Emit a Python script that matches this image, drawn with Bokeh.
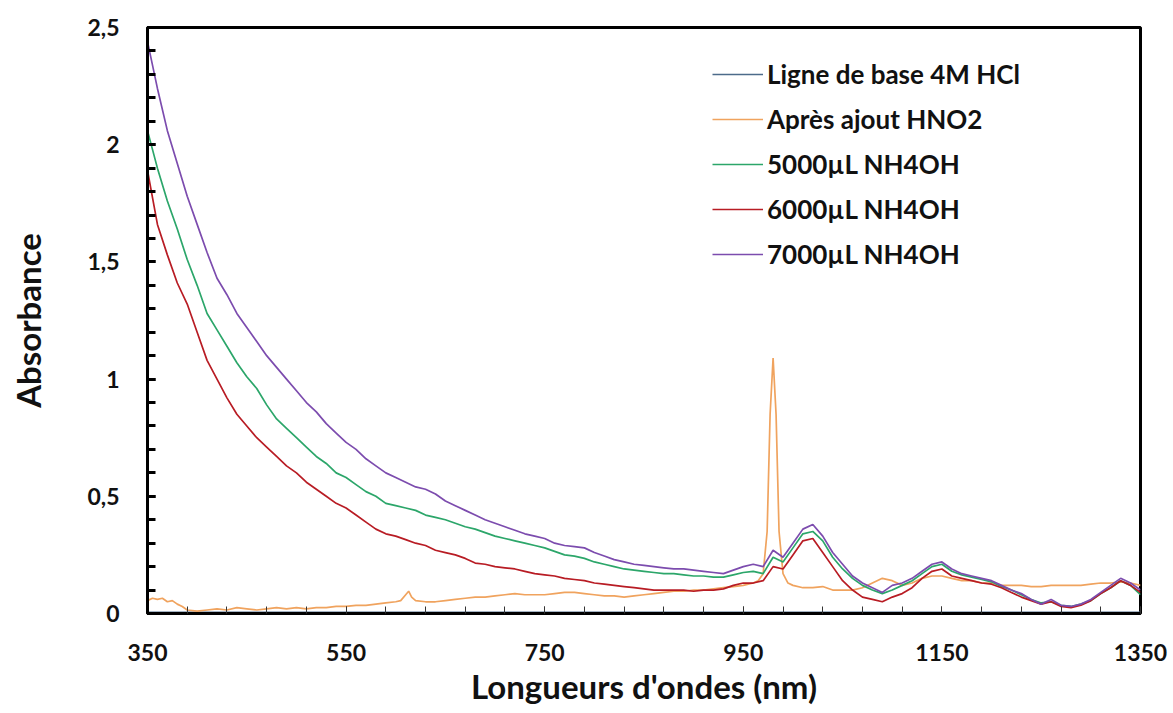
from bokeh.plotting import figure
from bokeh.embed import file_html
from bokeh.resources import INLINE
from bokeh.models import Range1d, FixedTicker, CustomJSTickFormatter, Legend, LegendItem

# ---------------- data ----------------
wl = list(range(350, 1351, 10))

a_7000 = [2.44, 2.24, 2.06, 1.92, 1.78, 1.66, 1.54, 1.43, 1.36, 1.28,
          1.22, 1.16, 1.10, 1.05, 1.00, 0.95, 0.90, 0.86, 0.81, 0.77,
          0.73, 0.70, 0.66, 0.63, 0.60, 0.58, 0.56, 0.54, 0.53, 0.51,
          0.48, 0.46, 0.44, 0.42, 0.40, 0.385, 0.37, 0.355, 0.34, 0.33,
          0.32, 0.30, 0.29, 0.285, 0.28, 0.26, 0.245, 0.23, 0.22, 0.21,
          0.205, 0.20, 0.195, 0.19, 0.19, 0.185, 0.18, 0.175, 0.17, 0.185,
          0.20, 0.21, 0.20, 0.27, 0.24, 0.30, 0.36, 0.38, 0.33, 0.26,
          0.21, 0.16, 0.13, 0.11, 0.09, 0.12, 0.13, 0.15, 0.18, 0.21,
          0.22, 0.19, 0.17, 0.16, 0.15, 0.14, 0.12, 0.10, 0.085, 0.06,
          0.04, 0.06, 0.035, 0.03, 0.04, 0.06, 0.09, 0.12, 0.15, 0.13,
          0.10]

a_5000 = [2.06, 1.90, 1.76, 1.64, 1.51, 1.40, 1.28, 1.21, 1.14, 1.07,
          1.01, 0.96, 0.89, 0.83, 0.79, 0.75, 0.71, 0.67, 0.64, 0.60,
          0.58, 0.55, 0.52, 0.50, 0.47, 0.46, 0.45, 0.44, 0.42, 0.41,
          0.40, 0.385, 0.37, 0.36, 0.345, 0.33, 0.32, 0.31, 0.30, 0.29,
          0.28, 0.265, 0.25, 0.245, 0.235, 0.22, 0.21, 0.20, 0.19, 0.185,
          0.18, 0.175, 0.17, 0.17, 0.165, 0.16, 0.16, 0.155, 0.155, 0.165,
          0.175, 0.18, 0.17, 0.24, 0.22, 0.28, 0.34, 0.35, 0.31, 0.24,
          0.19, 0.15, 0.12, 0.10, 0.085, 0.10, 0.12, 0.14, 0.17, 0.20,
          0.21, 0.18, 0.165, 0.155, 0.145, 0.135, 0.115, 0.10, 0.08, 0.06,
          0.045, 0.05, 0.035, 0.03, 0.04, 0.055, 0.085, 0.11, 0.14, 0.12,
          0.08]

a_6000 = [1.89, 1.66, 1.53, 1.41, 1.32, 1.20, 1.08, 1.00, 0.92, 0.85,
          0.80, 0.75, 0.71, 0.67, 0.63, 0.60, 0.56, 0.53, 0.50, 0.47,
          0.45, 0.42, 0.39, 0.36, 0.34, 0.33, 0.315, 0.30, 0.29, 0.27,
          0.26, 0.25, 0.235, 0.215, 0.21, 0.20, 0.195, 0.19, 0.18, 0.17,
          0.165, 0.16, 0.15, 0.145, 0.14, 0.13, 0.125, 0.12, 0.115, 0.11,
          0.105, 0.10, 0.10, 0.10, 0.10, 0.095, 0.10, 0.10, 0.105, 0.12,
          0.13, 0.13, 0.14, 0.20, 0.19, 0.25, 0.31, 0.32, 0.26, 0.20,
          0.14, 0.10, 0.07, 0.06, 0.05, 0.07, 0.085, 0.11, 0.15, 0.18,
          0.19, 0.16, 0.15, 0.14, 0.13, 0.125, 0.11, 0.09, 0.07, 0.055,
          0.04, 0.05, 0.03, 0.025, 0.035, 0.055, 0.085, 0.11, 0.14, 0.12,
          0.09]

wl_hno2 = [350, 355, 360, 365, 370, 375, 380, 385, 390, 400, 410, 420, 430, 440,
           450, 460, 470, 480, 490, 500, 510, 520, 530, 540, 550, 560, 570, 580,
           590, 600, 605, 610, 613, 616, 620, 630, 640, 650, 660, 670, 680, 690,
           700, 710, 720, 730, 740, 750, 760, 770, 780, 790, 800, 810, 820, 830,
           840, 850, 860, 870, 880, 890, 900, 910, 920, 930, 940, 950, 960, 965,
           970, 974, 977, 980, 983, 986, 990, 995, 1000, 1010, 1020, 1030, 1040,
           1050, 1060, 1070, 1080, 1090, 1100, 1110, 1120, 1130, 1140, 1150, 1160,
           1170, 1180, 1190, 1200, 1210, 1220, 1230, 1240, 1250, 1260, 1270, 1280,
           1290, 1300, 1310, 1320, 1330, 1340, 1350]
a_hno2 = [0.055, 0.065, 0.06, 0.065, 0.05, 0.055, 0.04, 0.03, 0.015, 0.01, 0.015,
          0.02, 0.015, 0.025, 0.02, 0.015, 0.02, 0.025, 0.02, 0.025, 0.02, 0.025,
          0.025, 0.03, 0.03, 0.035, 0.035, 0.04, 0.045, 0.05, 0.055, 0.08, 0.095,
          0.07, 0.055, 0.05, 0.05, 0.055, 0.06, 0.065, 0.07, 0.07, 0.075, 0.08,
          0.085, 0.08, 0.08, 0.08, 0.085, 0.09, 0.09, 0.085, 0.08, 0.075, 0.075,
          0.07, 0.075, 0.08, 0.085, 0.09, 0.095, 0.095, 0.10, 0.10, 0.105, 0.11,
          0.115, 0.12, 0.13, 0.14, 0.17, 0.35, 0.85, 1.09, 0.85, 0.35, 0.17, 0.13,
          0.12, 0.11, 0.11, 0.115, 0.10, 0.10, 0.10, 0.11, 0.13, 0.15, 0.14, 0.12,
          0.13, 0.15, 0.16, 0.16, 0.15, 0.14, 0.14, 0.13, 0.13, 0.12, 0.12, 0.12,
          0.115, 0.115, 0.12, 0.12, 0.12, 0.12, 0.125, 0.13, 0.13, 0.135, 0.13,
          0.12]

wl_base = [350, 550, 750, 950, 1150, 1350]
a_base = [0.005, 0.005, 0.005, 0.005, 0.005, 0.005]

labels = ["Ligne de base 4M HCl", "Après ajout HNO2", "5000µL NH4OH",
          "6000µL NH4OH", "7000µL NH4OH"]
colors = ["#4d6b8a", "#f0a35e", "#2ca66a", "#b81c24", "#7c4cae"]

x_ticks = [350, 550, 750, 950, 1150, 1350]
y_ticks = [0, 0.5, 1, 1.5, 2, 2.5]

# ---------------- figure ----------------
FONT = "Lato"
p = figure(width=1172, height=712, output_backend="svg", toolbar_location=None,
           x_range=Range1d(350, 1350), y_range=Range1d(0, 2.5),
           min_border_left=147, min_border_right=32, min_border_top=27,
           min_border_bottom=99)
p.grid.visible = False
p.outline_line_color = "black"
p.outline_line_width = 3
p.background_fill_color = "white"
p.border_fill_color = "white"

series = [(wl_base, a_base), (wl_hno2, a_hno2), (wl, a_5000), (wl, a_6000), (wl, a_7000)]
renderers = []
for (xs, ys), c in zip(series, colors):
    r = p.line(xs, ys, line_color=c, line_width=1.7)
    renderers.append(r)

# axes
xa = p.xaxis[0]
xa.ticker = FixedTicker(ticks=x_ticks, minor_ticks=list(range(350, 1351, 40)))
xa.axis_label = "Longueurs d'ondes (nm)"
ya = p.yaxis[0]
ya.ticker = FixedTicker(ticks=y_ticks, minor_ticks=[i / 10 for i in range(0, 26)])
ya.formatter = CustomJSTickFormatter(code="""
    var s = tick.toFixed(1);
    if (s.endsWith('.0')) { s = s.slice(0, -2); }
    return s.replace('.', ',');
""")
ya.axis_label = "Absorbance"

for ax in (xa, ya):
    ax.axis_line_color = "black"
    ax.axis_line_width = 3
    ax.major_label_text_font = FONT
    ax.major_label_text_font_style = "bold"
    ax.major_label_text_font_size = "23px"
    ax.major_label_text_color = "#111111"
    ax.axis_label_text_font = FONT
    ax.axis_label_text_font_style = "bold"
    ax.axis_label_text_font_size = "33px"
    ax.axis_label_text_color = "#111111"
    ax.major_tick_out = 0
    ax.minor_tick_out = 0

xa.major_tick_in = 7
xa.minor_tick_in = 7
xa.major_tick_line_color = "#333333"
xa.minor_tick_line_color = "#333333"
xa.major_tick_line_width = 1
xa.minor_tick_line_width = 1
xa.major_label_standoff = 30
xa.axis_label_standoff = 2

ya.major_tick_in = 8
ya.minor_tick_in = 8
ya.major_tick_line_color = "black"
ya.minor_tick_line_color = "black"
ya.major_tick_line_width = 3
ya.minor_tick_line_width = 3
ya.major_label_standoff = 28
ya.axis_label_standoff = 36

legend = Legend(items=[LegendItem(label=l, renderers=[r]) for l, r in zip(labels, renderers)],
                location=(565, 343))
legend.label_text_font = FONT
legend.label_text_font_style = "bold"
legend.label_text_font_size = "26px"
legend.label_text_color = "#111111"
legend.glyph_width = 51
legend.glyph_height = 30
legend.label_height = 30
legend.label_standoff = 4
legend.spacing = 13
legend.padding = 0
legend.margin = 0
legend.border_line_color = None
legend.background_fill_alpha = 0
p.add_layout(legend)

open("out.html", "w").write(file_html(p, INLINE))
